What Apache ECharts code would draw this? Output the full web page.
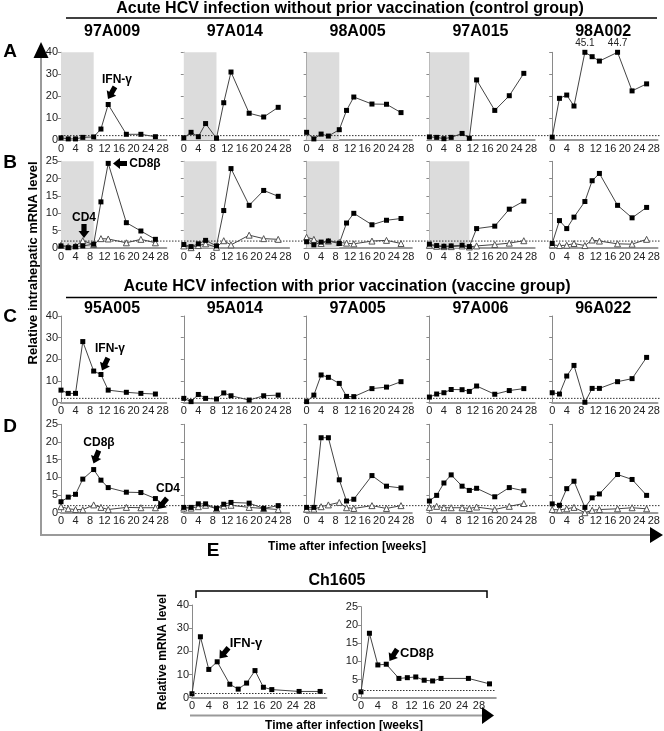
<!DOCTYPE html>
<html><head><meta charset="utf-8">
<script src="https://cdn.jsdelivr.net/npm/echarts@6/dist/echarts.min.js"></script>
<style>html,body{margin:0;padding:0;background:#fff}#c{width:664px;height:731px}</style>
</head><body><div id="c"></div>
<script>
// ---------- data ----------
const weeks = [0, 2, 4, 6, 9, 11, 13, 18, 22, 26];
const controlAnimals = ['97A009', '97A014', '98A005', '97A015', '98A002'];
const vaccineAnimals = ['95A005', '95A014', '97A005', '97A006', '96A022'];
const shadeEndWeek = [9, 9, 9, 11, null];
const xTickLabels = [0, 4, 8, 12, 16, 20, 24, 28];
const threshold = 2;

// Row A: IFN-gamma, control group
const ifnA_97A009 = [1.0, 0.5, 0.5, 1.2, 1.4, 5.0, 16.2, 2.6, 2.6, 1.5];
const ifnA_97A014 = [1.0, 3.5, 1.5, 7.5, 0.8, 17.0, 31.0, 12.2, 10.5, 14.9];
const ifnA_98A005 = [3.5, 0.5, 2.7, 1.8, 4.7, 13.5, 19.6, 16.4, 16.3, 12.5];
const ifnA_97A015 = [1.4, 1.2, 0.6, 1.2, 3.0, 0.8, 27.4, 13.5, 20.2, 30.4];
const ifnA_98A002 = [1.3, 19.0, 20.5, 15.5, 45.1, 38.0, 36.0, 44.7, 22.4, 25.6];
// Row B: CD8beta / CD4, control group
const cd8B_97A009 = [0.6, 0.1, 0.4, 0.6, 1.1, 13.3, 24.4, 7.3, 4.9, 2.5];
const cd4B_97A009 = [0.8, 0.4, 0.6, 2.1, 1.0, 2.7, 2.6, 1.5, 2.5, 1.5];
const cd8B_97A014 = [1.0, 0.4, 1.2, 2.2, 0.6, 10.8, 22.9, 12.3, 16.6, 14.9];
const cd4B_97A014 = [0.6, 0.1, 0.7, 1.2, 0.2, 2.1, 0.9, 3.7, 2.7, 2.5];
const cd8B_98A005 = [1.8, 0.9, 1.7, 2.0, 1.3, 7.2, 10.0, 6.7, 8.0, 8.5];
const cd4B_98A005 = [3.1, 2.5, 1.3, 2.0, 1.6, 1.4, 1.2, 2.0, 2.2, 1.3];
const cd8B_97A015 = [1.1, 0.7, 0.5, 0.6, 0.8, 0.4, 5.6, 6.3, 11.2, 13.5];
const cd4B_97A015 = [0.8, 0.5, 0.4, 0.4, 0.6, 0.3, 0.6, 1.0, 1.4, 2.1];
const cd8B_98A002 = [1.3, 7.9, 5.6, 8.9, 13.4, 19.4, 21.5, 12.3, 8.7, 11.7];
const cd4B_98A002 = [0.9, 0.7, 0.8, 1.3, 0.7, 2.3, 2.0, 1.2, 1.1, 2.5];
// Row C: IFN-gamma, vaccine group
const ifnC_95A005 = [5.8, 4.3, 4.3, 28.2, 14.6, 13.0, 5.8, 4.8, 4.3, 4.0];
const ifnC_95A014 = [2.0, 0.5, 3.8, 2.0, 1.7, 4.5, 3.2, 1.2, 3.2, 3.5];
const ifnC_97A005 = [0.5, 3.5, 12.8, 11.7, 8.9, 2.9, 2.8, 6.5, 7.2, 9.7];
const ifnC_97A006 = [2.6, 4.0, 4.6, 6.1, 6.0, 5.2, 7.7, 3.9, 5.6, 6.5];
const ifnC_96A022 = [4.6, 4.0, 12.3, 17.2, 0.2, 6.6, 6.6, 9.7, 11.1, 20.9];
// Row D: CD8beta / CD4, vaccine group
const cd8D_95A005 = [3.1, 4.4, 5.2, 9.5, 12.2, 9.2, 7.1, 5.8, 5.7, 4.0];
const cd4D_95A005 = [1.7, 1.1, 0.9, 0.85, 2.2, 1.5, 0.9, 1.5, 1.4, 1.4];
const cd8D_95A014 = [1.5, 1.5, 2.5, 2.5, 1.2, 2.4, 2.9, 2.7, 1.2, 2.0];
const cd4D_95A014 = [1.3, 1.3, 1.7, 2.1, 1.1, 1.9, 2.1, 1.5, 1.2, 0.9];
const cd8D_97A005 = [1.5, 1.5, 21.2, 21.2, 9.3, 3.3, 3.8, 10.5, 7.5, 7.0];
const cd4D_97A005 = [1.0, 1.0, 1.7, 2.2, 2.9, 1.4, 1.2, 2.0, 1.2, 2.0];
const cd8D_97A006 = [3.3, 4.9, 8.4, 10.7, 7.5, 6.3, 6.9, 4.5, 7.1, 6.2];
const cd4D_97A006 = [1.5, 1.8, 1.4, 1.4, 1.4, 1.2, 1.6, 0.9, 1.8, 2.6];
const cd8D_96A022 = [2.5, 2.1, 6.8, 8.9, 1.5, 4.2, 5.3, 10.8, 9.4, 4.9];
const cd4D_96A022 = [0.9, 0.8, 1.1, 1.5, 0.0, 0.7, 0.9, 1.1, 1.4, 1.1];
// Panel E: chimpanzee Ch1605
const weeksCh1605 = [0, 2, 4, 6, 9, 11, 13, 15, 17, 19, 25.5, 30.5];
const ifnE_Ch1605 = [1.7, 26.3, 12.2, 15.5, 5.8, 3.7, 6.3, 11.7, 4.5, 3.5, 2.7, 2.7];
const cd8E_Ch1605 = [1.6, 17.7, 9.0, 9.2, 5.3, 5.5, 5.7, 4.8, 4.6, 5.3, 5.3, 3.8];

// ---------- layout ----------
const FONT = '"Liberation Sans", Arial, sans-serif';
const panelLeft0 = 61, panelStep = 122.8, panelW = 105.3, xMaxRow = 29;
const rowTop = [52.3, 161.3, 316, 424.3];
const rowH = [87.7, 86.7, 86.7, 88.4];
const rowYMax = [40, 25, 40, 25];
const rowYInt = [10, 5, 10, 5];

const rowsSq = [
  [ifnA_97A009, ifnA_97A014, ifnA_98A005, ifnA_97A015, ifnA_98A002],
  [cd8B_97A009, cd8B_97A014, cd8B_98A005, cd8B_97A015, cd8B_98A002],
  [ifnC_95A005, ifnC_95A014, ifnC_97A005, ifnC_97A006, ifnC_96A022],
  [cd8D_95A005, cd8D_95A014, cd8D_97A005, cd8D_97A006, cd8D_96A022]
];
const rowsTri = [
  null,
  [cd4B_97A009, cd4B_97A014, cd4B_98A005, cd4B_97A015, cd4B_98A002],
  null,
  [cd4D_95A005, cd4D_95A014, cd4D_97A005, cd4D_97A006, cd4D_96A022]
];

const grid = [], xAxis = [], yAxis = [], series = [];

function addAxes(gi, xmax, ymax, yint, showY) {
  xAxis.push({
    gridIndex: gi, type: 'value', min: 0, max: xmax, interval: 4,
    axisLine: { show: true, onZero: false, lineStyle: { color: '#9a9a9a', width: 2 } },
    axisTick: { show: false }, splitLine: { show: false },
    axisLabel: { fontSize: 11, color: '#222', fontFamily: FONT, margin: 3, showMaxLabel: true,
      formatter: v => (xTickLabels.indexOf(v) >= 0 ? String(v) : '') }
  });
  yAxis.push({
    gridIndex: gi, type: 'value', min: 0, max: ymax, interval: yint,
    axisLine: { show: true, lineStyle: { color: '#8a8a8a', width: 1 } },
    axisTick: { show: true, length: 3, lineStyle: { color: '#8a8a8a' } },
    splitLine: { show: false },
    axisLabel: { show: showY, fontSize: 11, color: '#222', fontFamily: FONT, margin: 3 }
  });
}

function lineSeries(gi, xs, vals, ymax, tri, shade) {
  const data = vals.map((v, i) => {
    const over = v > ymax;
    return {
      value: [xs[i], Math.min(v, ymax)],
      label: { show: over, formatter: String(v), position: 'top', distance: 2,
        fontSize: 10, color: '#222', fontFamily: FONT }
    };
  });
  const s = {
    type: 'line', xAxisIndex: gi, yAxisIndex: gi, data, clip: false, silent: true,
    symbol: tri ? 'triangle' : 'rect', symbolSize: tri ? 6 : 5,
    lineStyle: { color: '#444', width: 1 },
    itemStyle: tri ? { color: '#fff', borderColor: '#555', borderWidth: 1 } : { color: '#000', borderWidth: 0 },
    z: tri ? 3 : 4
  };
  if (shade != null) {
    s.markArea = { silent: true, itemStyle: { color: '#dcdcdc' }, data: [[{ xAxis: 0 }, { xAxis: shade }]] };
  }
  return s;
}

let gi = 0;
for (let r = 0; r < 4; r++) {
  for (let p = 0; p < 5; p++) {
    grid.push({ left: panelLeft0 + p * panelStep, top: rowTop[r], width: panelW, height: rowH[r] });
    addAxes(gi, xMaxRow, rowYMax[r], rowYInt[r], p === 0);
    const shade = r < 2 ? shadeEndWeek[p] : null;
    let first = true;
    if (rowsTri[r]) {
      series.push(lineSeries(gi, weeks, rowsTri[r][p], rowYMax[r], true, shade));
      first = false;
    }
    series.push(lineSeries(gi, weeks, rowsSq[r][p], rowYMax[r], false, first ? shade : null));
    gi++;
  }
}
// continuous dotted threshold line across each row
for (let r = 0; r < 4; r++) {
  grid.push({ left: panelLeft0, top: rowTop[r], width: 599, height: rowH[r] });
  xAxis.push({ gridIndex: gi, type: 'value', min: 0, max: 1, show: false });
  yAxis.push({ gridIndex: gi, type: 'value', min: 0, max: rowYMax[r], show: false });
  series.push({ type: 'line', xAxisIndex: gi, yAxisIndex: gi, silent: true, symbol: 'none',
    data: [[0, threshold], [1, threshold]], lineStyle: { color: '#333', width: 1, type: [1.5, 1.5] }, z: 1 });
  gi++;
}
// panel E
const eGrids = [
  { left: 192, top: 605, width: 134.4, height: 92.7, ymax: 40, yint: 10, vals: ifnE_Ch1605 },
  { left: 361, top: 606.7, width: 134.8, height: 91, ymax: 25, yint: 5, vals: cd8E_Ch1605 }
];
eGrids.forEach(e => {
  grid.push({ left: e.left, top: e.top, width: e.width, height: e.height });
  addAxes(gi, 32, e.ymax, e.yint, true);
  const s = lineSeries(gi, weeksCh1605, e.vals, e.ymax, false, null);
  s.markLine = { silent: true, symbol: 'none', label: { show: false },
    lineStyle: { color: '#333', width: 1, type: [1.5, 1.5] }, data: [{ yAxis: threshold }] };
  series.push(s);
  gi++;
});

// ---------- annotations ----------
function txt(x, y, text, size, weight, extra) {
  return Object.assign({ type: 'text', x, y, z: 100, silent: true,
    style: { text, fontSize: size, fontWeight: weight || 'bold', fontFamily: FONT, fill: '#000',
      textAlign: 'center', textVerticalAlign: 'middle' } }, extra || {});
}
function blockArrow(tx, ty, deg, len) {
  len = len || 14;
  const th = deg * Math.PI / 180, c = Math.cos(th), s = Math.sin(th);
  const hl = 7, hw = 5.5, sw = 2.6;
  const pts = [[0, 0], [-hl, -hw], [-hl, -sw], [-len, -sw], [-len, sw], [-hl, sw], [-hl, hw]]
    .map(([x, y]) => [tx + x * c - y * s, ty + x * s + y * c]);
  return { type: 'polygon', z: 100, silent: true, shape: { points: pts }, style: { fill: '#000' } };
}
function hline(x1, x2, y, color, w) {
  return { type: 'line', z: 100, silent: true, shape: { x1, y1: y, x2, y2: y }, style: { stroke: color, lineWidth: w } };
}

const graphic = [];
graphic.push(txt(350, 8.5, 'Acute HCV infection without prior vaccination (control group)', 16));
graphic.push(hline(66, 657, 18, '#000', 1.5));
graphic.push(txt(347, 287, 'Acute HCV infection with prior vaccination (vaccine group)', 16));
graphic.push(hline(66, 657, 297.5, '#000', 1.5));
for (let p = 0; p < 5; p++) {
  const cx = panelLeft0 + p * panelStep + 51;
  graphic.push(txt(cx, 31.5, controlAnimals[p], 16));
  graphic.push(txt(cx, 308.5, vaccineAnimals[p], 16));
}
graphic.push(txt(10, 52, 'A', 19), txt(10, 163, 'B', 19), txt(10, 317, 'C', 19), txt(10, 427, 'D', 19));
graphic.push(txt(213, 551, 'E', 19));
// main axes arrows
graphic.push({ type: 'line', z: 100, silent: true, shape: { x1: 41, y1: 56, x2: 41, y2: 535 }, style: { stroke: '#9a9a9a', lineWidth: 2 } });
graphic.push({ type: 'polygon', z: 100, silent: true, shape: { points: [[41, 42], [33.5, 58], [48.5, 58]] }, style: { fill: '#000' } });
graphic.push(hline(40, 652, 535, '#9a9a9a', 2));
graphic.push({ type: 'polygon', z: 100, silent: true, shape: { points: [[663, 535], [650, 527], [650, 543]] }, style: { fill: '#000' } });
graphic.push(txt(33, 263, 'Relative intrahepatic mRNA level', 13, 'bold', { rotation: Math.PI / 2 }));
graphic.push(txt(347, 547, 'Time after infection [weeks]', 12));
// E extras
graphic.push(txt(337, 581, 'Ch1605', 16));
graphic.push({ type: 'polyline', z: 100, silent: true, shape: { points: [[196, 598], [196, 591], [487, 591], [487, 598]] }, style: { stroke: '#000', lineWidth: 1.5, fill: null } });
graphic.push(txt(163, 652, 'Relative mRNA level', 12, 'bold', { rotation: Math.PI / 2 }));
graphic.push(hline(190, 484, 715.5, '#9a9a9a', 2));
graphic.push({ type: 'polygon', z: 100, silent: true, shape: { points: [[494, 715.5], [482, 707], [482, 724]] }, style: { fill: '#000' } });
graphic.push(txt(344, 726, 'Time after infection [weeks]', 12));
// arrow labels
graphic.push(txt(117, 80, 'IFN-γ', 12), blockArrow(108, 99, 120));
graphic.push(txt(145, 164, 'CD8β', 12), blockArrow(113, 163.5, 180));
graphic.push(txt(84, 218, 'CD4', 12), blockArrow(84, 238, 90));
graphic.push(txt(110, 349, 'IFN-γ', 12), blockArrow(102, 370.5, 115));
graphic.push(txt(99, 443, 'CD8β', 12), blockArrow(93.5, 463.5, 112));
graphic.push(txt(168, 489, 'CD4', 12), blockArrow(158, 509, 130));
graphic.push(txt(246, 643, 'IFN-γ', 13), blockArrow(219.5, 658.5, 130));
graphic.push(txt(417, 653, 'CD8β', 13), blockArrow(389.5, 661, 123));

const chart = echarts.init(document.getElementById('c'), null, { renderer: 'canvas' });
chart.setOption({
  animation: false, backgroundColor: '#fff',
  grid, xAxis, yAxis, series, graphic
});
</script></body></html>
